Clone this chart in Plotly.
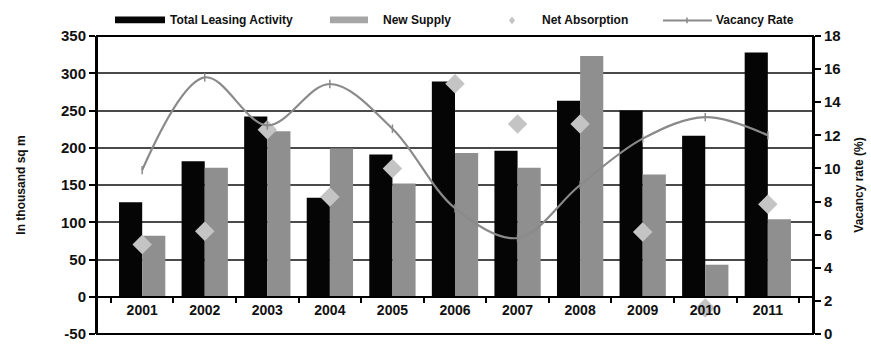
import plotly.graph_objects as go

years = ["2001", "2002", "2003", "2004", "2005", "2006", "2007", "2008", "2009", "2010", "2011"]
total_leasing = [127, 182, 242, 133, 191, 289, 196, 263, 250, 216, 328]
new_supply = [82, 173, 222, 199, 152, 193, 173, 323, 164, 43, 104]
net_absorption = [70, 88, 224, 134, 172, 286, 232, 232, 87, -15, 124]
vacancy_rate = [9.9, 15.5, 12.6, 15.1, 12.4, 7.6, 5.8, 9.0, 11.8, 13.1, 12.0]
area_ticks = [-50, 0, 50, 100, 150, 200, 250, 300, 350]
area_tick_labels = ["-50", "0", "50", "100", "150", "200", "250", "300", "350"]

FONT = "Liberation Sans, Arial, sans-serif"
BLACK = "#050505"
GREY = "#8f8f8f"
DIAMOND = "#c4c4c4"
LINE = "#8a8a8a"

W, H = 871, 349
ML, MR, MT, MB = 97, 58, 36, 7
PW, PH = W - ML - MR, H - MT - MB


def px(x):
    return (x - ML) / PW


def py(y):
    return (H - MB - y) / PH


fig = go.Figure()
fig.add_trace(go.Bar(x=years, y=total_leasing, name="Total Leasing Activity",
                     marker=dict(color=BLACK, line=dict(width=0))))
fig.add_trace(go.Bar(x=years, y=new_supply, name="New Supply",
                     marker=dict(color=GREY, line=dict(width=0))))
fig.add_trace(go.Scatter(x=years, y=net_absorption, name="Net Absorption", mode="markers",
                         marker=dict(symbol="diamond", size=15, color=DIAMOND,
                                     line=dict(width=0))))
fig.add_trace(go.Scatter(x=years, y=vacancy_rate, name="Vacancy Rate", yaxis="y2",
                         mode="lines+markers",
                         line=dict(color=LINE, width=2.2, shape="spline", smoothing=1.0),
                         marker=dict(symbol="line-ns", size=6, color=LINE,
                                     line=dict(width=1.5, color=LINE))))

tick_font = dict(family=FONT, size=15, color="#111", weight="bold")
title_font = dict(family=FONT, size=12, color="#111", weight="bold")

fig.update_layout(
    width=W, height=H,
    margin=dict(l=ML, r=MR, t=MT, b=MB),
    paper_bgcolor="white", plot_bgcolor="white",
    barmode="group", bargap=0.26, bargroupgap=0.0,
    font=dict(family=FONT, size=12, color="#111"),
    showlegend=False,
    xaxis=dict(type="category", anchor="free", position=0.125,
               showline=True, linecolor="#000", linewidth=2,
               ticks="outside", ticklen=5, tickwidth=2, tickcolor="#000",
               tickson="boundaries", showgrid=False,
               tickfont=dict(family=FONT, size=14, color="#111", weight="bold")),
    yaxis=dict(range=[-50, 350], tickmode="array", tickvals=area_ticks,
               ticktext=area_tick_labels,
               showgrid=True, gridcolor="#4a4a4a", gridwidth=1.6,
               zeroline=True, zerolinecolor="#000", zerolinewidth=2,
               showline=True, linecolor="#000", linewidth=2,
               ticks="outside", ticklen=6, tickwidth=2, tickcolor="#000",
               ticklabeloverflow="allow", tickfont=tick_font,
               title=dict(text="In thousand sq m", standoff=33, font=title_font)),
    yaxis2=dict(range=[0, 18], dtick=2, overlaying="y", side="right", showgrid=False,
                zeroline=False, showline=True, linecolor="#000", linewidth=2,
                ticks="outside", ticklen=6, tickwidth=2, tickcolor="#000",
                ticklabeloverflow="allow", tickfont=tick_font,
                title=dict(text="Vacancy rate (%)", standoff=14, font=title_font)),
)

# Outer frame around the plotting area
fig.add_shape(type="rect", xref="paper", yref="paper", x0=0, x1=1, y0=0, y1=1,
              line=dict(color="#000", width=2), layer="above")

# Legend row above the plot
LY = 20
legend_font = dict(family=FONT, size=12, color="#111", weight="bold")
fig.add_shape(type="rect", xref="paper", yref="paper",
              x0=px(115), x1=px(165), y0=py(23), y1=py(16),
              fillcolor=BLACK, line=dict(width=0))
fig.add_shape(type="rect", xref="paper", yref="paper",
              x0=px(330), x1=px(368), y0=py(23), y1=py(16),
              fillcolor="#a6a6a6", line=dict(width=0))
fig.add_shape(type="path", xref="paper", yref="paper",
              path=f"M {px(512)},{py(LY - 4)} L {px(515)},{py(LY)} L {px(512)},{py(LY + 4)} "
                   f"L {px(509)},{py(LY)} Z",
              fillcolor=DIAMOND, line=dict(width=0))
fig.add_shape(type="line", xref="paper", yref="paper",
              x0=px(663), x1=px(712), y0=py(LY), y1=py(LY),
              line=dict(color=LINE, width=2))
fig.add_shape(type="line", xref="paper", yref="paper",
              x0=px(687), x1=px(687), y0=py(LY - 3), y1=py(LY + 3),
              line=dict(color=LINE, width=1.5))
for label, x0 in [("Total Leasing Activity", 168), ("New Supply", 381),
                  ("Net Absorption", 540), ("Vacancy Rate", 714)]:
    fig.add_annotation(text=label, xref="paper", yref="paper", x=px(x0), y=py(LY),
                       xanchor="left", yanchor="middle", showarrow=False,
                       font=legend_font)

fig.write_html("out.html")
